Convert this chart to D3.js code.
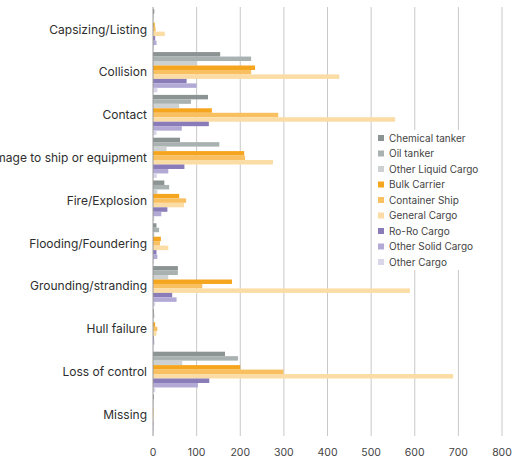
<!DOCTYPE html>
<html>
<head>
<meta charset="utf-8">
<script src="https://cdn.jsdelivr.net/npm/d3@7"></script>
<style>
  body { margin: 0; background: #fff; }
  svg { display: block; font-family: Inter, "Open Sans", sans-serif; }
</style>
</head>
<body>
<div id="chart"></div>
<script>
// casualty types (y axis)
const categories = ['Capsizing/Listing', 'Collision', 'Contact', 'Damage to ship or equipment',
  'Fire/Explosion', 'Flooding/Foundering', 'Grounding/stranding', 'Hull failure',
  'Loss of control', 'Missing'];

const shipTypes = ['Chemical tanker', 'Oil tanker', 'Other Liquid Cargo', 'Bulk Carrier',
  'Container Ship', 'General Cargo', 'Ro-Ro Cargo', 'Other Solid Cargo', 'Other Cargo'];

const colors = ['#8c9393', '#aab1b1', '#cdd1d1', '#f5a51e', '#f8c061', '#fbdca4',
  '#8a7bb9', '#b2a9d5', '#d9d6e9'];

// one array per ship type, values in category order
const chemical   = [3, 154, 126, 62, 26, 8, 57, 2, 165, 2];
const oil        = [1, 225, 87, 152, 37, 14, 57, 3, 195, 1];
const otherLiq   = [1, 101, 60, 31, 10, 3, 35, 1, 67, 1];
const bulk       = [4, 234, 135, 209, 60, 18, 181, 5, 200, 1];
const container  = [6, 225, 287, 211, 76, 16, 113, 10, 299, 1];
const general    = [27, 427, 555, 275, 71, 35, 589, 8, 688, 1];
const roro       = [5, 77, 128, 72, 33, 8, 44, 2, 129, 1];
const otherSolid = [8, 100, 66, 35, 19, 10, 54, 3, 103, 1];
const otherCargo = [2, 10, 8, 9, 3, 2, 5, 1, 5, 1];

const series = [chemical, oil, otherLiq, bulk, container, general, roro, otherSolid, otherCargo];
const xTicks = [0, 100, 200, 300, 400, 500, 600, 700, 800];

const W = 514, H = 460;
const svg = d3.select('#chart').append('svg').attr('width', W).attr('height', H);

const x = d3.scaleLinear().domain([0, 800]).range([153, 502]);
const y = d3.scaleBand().domain(categories).range([8, 436]).paddingInner(0.06).paddingOuter(0.03);
const yIn = d3.scaleBand().domain(d3.range(shipTypes.length)).range([0, y.bandwidth()]);

// grid
svg.append('g').selectAll('line').data(xTicks.slice(1)).enter().append('line')
  .attr('x1', d => x(d)).attr('x2', d => x(d))
  .attr('y1', 7).attr('y2', 436)
  .attr('stroke', '#c8c8c8').attr('stroke-width', 1);

// bars
const groups = svg.append('g').selectAll('g').data(categories).enter().append('g')
  .attr('transform', c => `translate(0,${y(c)})`);

groups.selectAll('rect')
  .data((c, ci) => series.map((s, si) => ({ si, v: s[ci] })))
  .enter().append('rect')
  .attr('x', x(0))
  .attr('y', d => yIn(d.si))
  .attr('width', d => x(d.v) - x(0))
  .attr('height', yIn.bandwidth())
  .attr('fill', d => colors[d.si]);

// y axis line
svg.append('line').attr('x1', x(0)).attr('x2', x(0)).attr('y1', 7).attr('y2', 436)
  .attr('stroke', '#9a9a9a');

// category labels (the long one runs off the left edge, as in the original)
svg.append('g').selectAll('text').data(categories).enter().append('text')
  .attr('x', 147).attr('y', c => y(c) + y.bandwidth() / 2)
  .attr('dy', '0.35em').attr('text-anchor', 'end')
  .attr('font-size', 12).attr('fill', '#2e2e2e')
  .text(c => c);

// x tick labels
svg.append('g').selectAll('text').data(xTicks).enter().append('text')
  .attr('x', d => x(d)).attr('y', 452).attr('dy', '0.35em')
  .attr('text-anchor', 'middle').attr('font-size', 10.5).attr('fill', '#444')
  .text(d => d);

// legend
const lg = svg.append('g');
lg.append('rect').attr('x', 373).attr('y', 130).attr('width', 128).attr('height', 140).attr('fill', '#fff');
const item = lg.selectAll('g').data(shipTypes).enter().append('g')
  .attr('transform', (d, i) => `translate(378,${138 + i * 15.5})`);
item.append('rect').attr('x', 0).attr('y', -3).attr('width', 6).attr('height', 6)
  .attr('fill', (d, i) => colors[i]);
item.append('text').attr('x', 11).attr('dy', '0.35em')
  .attr('font-size', 10).attr('fill', '#444').text(d => d);
</script>
</body>
</html>
